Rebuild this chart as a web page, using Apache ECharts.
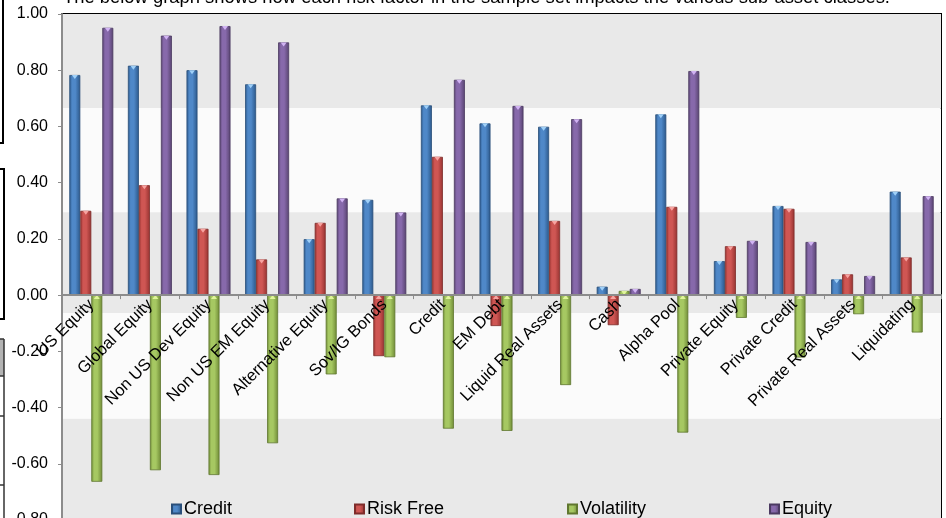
<!DOCTYPE html>
<html>
<head>
<meta charset="utf-8">
<title>Risk factor impact by sub-asset class</title>
<script src="https://cdn.jsdelivr.net/npm/echarts@6/dist/echarts.min.js"></script>
<style>
  html, body { margin: 0; padding: 0; background: #ffffff; }
  #chart { width: 946px; height: 518px; }
</style>
</head>
<body>
<div id="chart"></div>
<script>
// Sub-asset classes along the category axis
const categories = [
  'US Equity', 'Global Equity', 'Non US Dev Equity', 'Non US EM Equity',
  'Alternative Equity', 'Sov/IG Bonds', 'Credit', 'EM Debt',
  'Liquid Real Assets', 'Cash', 'Alpha Pool', 'Private Equity',
  'Private Credit', 'Private Real Assets', 'Liquidating'
];

// Sensitivity of each sub-asset class to each risk factor
const credit     = [0.783, 0.816, 0.800, 0.750, 0.199, 0.339, 0.675, 0.611, 0.599, 0.030, 0.643, 0.121, 0.317, 0.056, 0.368];
const riskFree   = [0.300, 0.391, 0.236, 0.127, 0.257, -0.217, 0.492, -0.110, 0.264, -0.107, 0.314, 0.174, 0.307, 0.074, 0.134];
const volatility = [-0.664, -0.623, -0.640, -0.527, -0.282, -0.221, -0.475, -0.483, -0.320, 0.015, -0.489, -0.081, -0.222, -0.068, -0.133];
const equity     = [0.951, 0.923, 0.957, 0.899, 0.344, 0.294, 0.766, 0.673, 0.626, 0.022, 0.797, 0.193, 0.189, 0.068, 0.352];

// Value-axis ticks
const yTicks = { min: -0.8, max: 1.0, interval: 0.2 };

// Alternating background bands (value ranges)
const bandEdges = [1.0, 0.665, 0.295, -0.064, -0.44, -0.8];

const FONT = 'Liberation Sans, Arial, Helvetica, sans-serif';
const BAR_W = 11;

// Plot box: the lower edge runs just past the bottom of the canvas
const CHART_H = 518;
const GRID_TOP = 14;
const GRID_BOTTOM = -2;
const gridHeight = CHART_H - GRID_TOP - GRID_BOTTOM;
// Shift the category axis (line, ticks and labels) up to the zero line
const zeroShift = -gridHeight * (0 - yTicks.min) / (yTicks.max - yTicks.min);

// Bevelled column look: dark edges, lighter middle, light cap triangle
const palette = {
  Credit:     { edge: '#2b5789', mid: '#4f88c8', cap: '#9fd0f8', line: '#2a4f7a' },
  'Risk Free':{ edge: '#953230', mid: '#cf5653', cap: '#f7a3a0', line: '#7e2c2a' },
  Volatility: { edge: '#6f8a36', mid: '#a6c862', cap: '#e0f59a', line: '#60772f' },
  Equity:     { edge: '#57436f', mid: '#8769ab', cap: '#d1b3f3', line: '#4b3a61' }
};

function bevel(c) {
  return {
    type: 'linear', x: 0, y: 0, x2: 1, y2: 0,
    colorStops: [
      { offset: 0, color: c.edge },
      { offset: 0.25, color: c.mid },
      { offset: 0.55, color: c.mid },
      { offset: 1, color: c.edge }
    ]
  };
}

const seriesDefs = [
  ['Credit', credit],
  ['Risk Free', riskFree],
  ['Volatility', volatility],
  ['Equity', equity]
];

const barSeries = seriesDefs.map(([name, values]) => ({
  name: name,
  type: 'bar',
  data: values,
  barWidth: BAR_W,
  barGap: '0%',
  z: 3,
  itemStyle: {
    color: bevel(palette[name]),
    borderColor: palette[name].line,
    borderWidth: 0.8
  }
}));

// Small downward caps on the upper edge of each column
const capSeries = seriesDefs.map(([name, values]) => ({
  name: name,
  type: 'pictorialBar',
  data: values.map(v => ({ value: v, symbolPosition: v >= 0 ? 'end' : 'start' })),
  barWidth: BAR_W,
  barGap: '0%',
  symbol: 'path://M0,0L10,0L5,7Z',
  symbolSize: [6, 4],
  z: 4,
  silent: true,
  itemStyle: { color: palette[name].cap }
}));

// Background bands drawn through the value axis
const bandAreas = [];
for (let i = 0; i < bandEdges.length - 1; i++) {
  bandAreas.push([
    { yAxis: bandEdges[i], itemStyle: { color: i % 2 === 0 ? '#e9e9e9' : '#fbfbfb' } },
    { yAxis: bandEdges[i + 1] }
  ]);
}

const bandSeries = {
  name: 'bands',
  type: 'line',
  data: [],
  z: 1,
  silent: true,
  markArea: { silent: true, data: bandAreas }
};

const legendNames = ['Credit', 'Risk Free', 'Volatility', 'Equity'];
const legendLeft = [171, 354, 567, 769];

const chart = echarts.init(document.getElementById('chart'), null, { renderer: 'canvas' });

chart.setOption({
  animation: false,
  backgroundColor: '#ffffff',
  textStyle: { fontFamily: FONT },
  grid: {
    left: 62, right: 5, top: GRID_TOP, bottom: GRID_BOTTOM,
    containLabel: false,
    outerBoundsMode: 'none',
    show: true, borderColor: '#000000', borderWidth: 2,
    backgroundColor: 'transparent'
  },
  legend: legendNames.map((n, i) => ({
    data: [n],
    left: legendLeft[i],
    top: 500,
    padding: 0,
    itemWidth: 9,
    itemHeight: 9,
    icon: 'rect',
    selectedMode: false,
    textStyle: { fontSize: 18, color: '#000', fontFamily: FONT, padding: [0, 0, 0, -2] }
  })),
  xAxis: {
    type: 'category',
    data: categories,
    position: 'bottom',
    offset: zeroShift,
    z: 5,
    axisLine: { onZero: false, lineStyle: { color: '#8c8c8c', width: 2 } },
    axisTick: { show: true, length: 4, interval: 0, lineStyle: { color: '#8c8c8c', width: 1 } },
    axisLabel: {
      interval: 0, rotate: 45, margin: 7,
      fontSize: 16.5, color: '#000', fontFamily: FONT
    },
    splitLine: { show: false }
  },
  yAxis: {
    type: 'value',
    min: yTicks.min, max: yTicks.max, interval: yTicks.interval,
    z: 5,
    axisLine: { show: true, onZero: false, lineStyle: { color: '#8c8c8c', width: 2 } },
    axisTick: { show: true, length: 4, lineStyle: { color: '#8c8c8c', width: 1 } },
    axisLabel: {
      margin: 14, fontSize: 16, color: '#000', fontFamily: FONT,
      formatter: v => v.toFixed(2)
    },
    splitLine: { show: false }
  },
  graphic: [
    {
      type: 'text', x: 63, y: -2, z: 10,
      style: {
        text: 'The below graph shows how each risk factor in the sample set impacts the various sub-asset classes.',
        font: '18.4px ' + FONT, fill: '#000', verticalAlign: 'middle', align: 'left'
      }
    },
    // neighbouring page frames along the left edge
    { type: 'polyline', shape: { points: [[3, 0], [3, 143], [0, 143]] }, style: { stroke: '#000', lineWidth: 2, fill: null } },
    { type: 'polyline', shape: { points: [[0, 169], [4, 169], [4, 319], [0, 319]] }, style: { stroke: '#000', lineWidth: 2, fill: null } },
    { type: 'rect', shape: { x: 0, y: 339, width: 4, height: 37 }, style: { fill: '#b3b3b3' } },
    { type: 'line', shape: { x1: 4, y1: 339, x2: 4, y2: 518 }, style: { stroke: '#333', lineWidth: 1.5 } },
    { type: 'line', shape: { x1: 0, y1: 339, x2: 4, y2: 339 }, style: { stroke: '#333', lineWidth: 1.5 } },
    { type: 'line', shape: { x1: 0, y1: 376, x2: 4, y2: 376 }, style: { stroke: '#333', lineWidth: 1.5 } },
    { type: 'line', shape: { x1: 0, y1: 416, x2: 4, y2: 416 }, style: { stroke: '#333', lineWidth: 1.5 } },
    { type: 'line', shape: { x1: 0, y1: 485, x2: 4, y2: 485 }, style: { stroke: '#333', lineWidth: 1.5 } }
  ],
  series: [bandSeries].concat(barSeries, capSeries)
});
</script>
</body>
</html>
